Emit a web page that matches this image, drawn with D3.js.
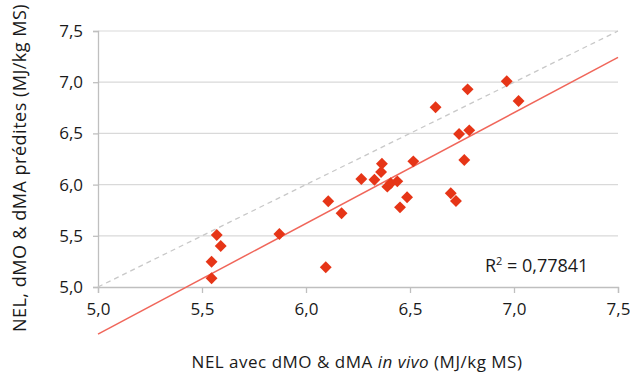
<!DOCTYPE html>
<html>
<head>
<meta charset="utf-8">
<script src="https://cdn.jsdelivr.net/npm/d3@7"></script>
<style>
  body { margin: 0; background: #fff; }
  svg text { font-family: "Open Sans", "Noto Sans", sans-serif; fill: #1a1a1a; }
</style>
</head>
<body>
<div id="chart"></div>
<script>
// NEL in vivo (x) vs predicted (y), MJ/kg MS
var inVivo = [5.546, 5.546, 5.571, 5.59, 5.872, 6.095, 6.107, 6.171, 6.266, 6.329,
  6.361, 6.365, 6.391, 6.407, 6.439, 6.452, 6.486, 6.516, 6.623, 6.696,
  6.721, 6.736, 6.761, 6.777, 6.785, 6.965, 7.022];
var predicted = [5.085, 5.247, 5.508, 5.40, 5.518, 5.193, 5.837, 5.72, 6.055, 6.048,
  6.123, 6.204, 5.98, 6.013, 6.032, 5.778, 5.876, 6.227, 6.755, 5.915,
  5.84, 6.494, 6.24, 6.93, 6.530, 7.009, 6.816];
var ticks = [5.0, 5.5, 6.0, 6.5, 7.0, 7.5];
// trend line as drawn in the picture (end points)
var trendX = [5.0, 7.5];
var trendY = [4.54, 7.243];
var r2Label = "0,77841";

var svgWidth = 630, svgHeight = 374;
var margin = {top: 31, right: 12, bottom: 87, left: 98};
var width = svgWidth - margin.left - margin.right;
var height = svgHeight - margin.top - margin.bottom;

var svg = d3.select("#chart").append("svg")
  .attr("width", svgWidth)
  .attr("height", svgHeight);
var g = svg.append("g")
  .attr("transform", "translate(" + margin.left + "," + margin.top + ")");

var x = d3.scaleLinear().domain([5, 7.5]).range([0, width]);
var y = d3.scaleLinear().domain([5, 7.5]).range([height, 0]);
var fmt = function(d) { return d3.format(".1f")(d).replace(".", ","); };

// gridlines
g.append("g")
  .selectAll("line")
  .data(ticks.slice(1))
  .join("line")
    .attr("x1", 0).attr("x2", width)
    .attr("y1", y).attr("y2", y)
    .attr("stroke", "#d9d9d9")
    .attr("stroke-width", 1.2);

// axes
var yAxis = g.append("g")
  .call(d3.axisLeft(y).tickValues(ticks).tickFormat(fmt).tickSize(5).tickPadding(10));
var xAxis = g.append("g")
  .attr("transform", "translate(0," + height + ")")
  .call(d3.axisBottom(x).tickValues(ticks).tickFormat(fmt).tickSize(6).tickPadding(10));
[xAxis, yAxis].forEach(function(a) {
  a.select(".domain").attr("stroke", "#bfbfbf").attr("stroke-width", 1.3);
  a.selectAll(".tick line").attr("stroke", "#bfbfbf").attr("stroke-width", 1.3);
  a.selectAll(".tick text").style("font-size", "17px").attr("fill", "#1a1a1a");
});

// identity line
g.append("line")
  .attr("x1", x(5)).attr("y1", y(5))
  .attr("x2", x(7.5)).attr("y2", y(7.5))
  .attr("stroke", "#c8c8c8")
  .attr("stroke-width", 1.3)
  .attr("stroke-dasharray", "5,4");

// trend line
g.append("line")
  .attr("x1", x(trendX[0])).attr("y1", y(trendY[0]))
  .attr("x2", x(trendX[1])).attr("y2", y(trendY[1]))
  .attr("stroke", "#f0665a")
  .attr("stroke-width", 1.5);

// points
var diamond = d3.symbol().type(d3.symbolDiamond2).size(90);
g.append("g")
  .selectAll("path")
  .data(inVivo)
  .join("path")
    .attr("d", diamond)
    .attr("transform", function(d, i) { return "translate(" + x(d) + "," + y(predicted[i]) + ")"; })
    .attr("fill", "#e63517");

// R2 label
var r2 = g.append("text")
  .attr("x", x(6.86))
  .attr("y", y(5.15))
  .style("font-size", "18px");
r2.append("tspan").text("R");
r2.append("tspan").attr("dy", -7).style("font-size", "11px").text("2");
r2.append("tspan").attr("dy", 7).text(" = " + r2Label);

// axis titles
var xt = svg.append("text")
  .attr("x", 357).attr("y", 368)
  .attr("text-anchor", "middle")
  .style("font-size", "17px")
  .style("letter-spacing", "0.5px");
xt.append("tspan").text("NEL avec dMO & dMA ");
xt.append("tspan").style("font-style", "italic").text("in vivo");
xt.append("tspan").text(" (MJ/kg MS)");

svg.append("text")
  .attr("transform", "translate(26,168) rotate(-90)")
  .attr("text-anchor", "middle")
  .style("font-size", "18px")
  .style("letter-spacing", "0.5px")
  .text("NEL, dMO & dMA prédites (MJ/kg MS)");
</script>
</body>
</html>
